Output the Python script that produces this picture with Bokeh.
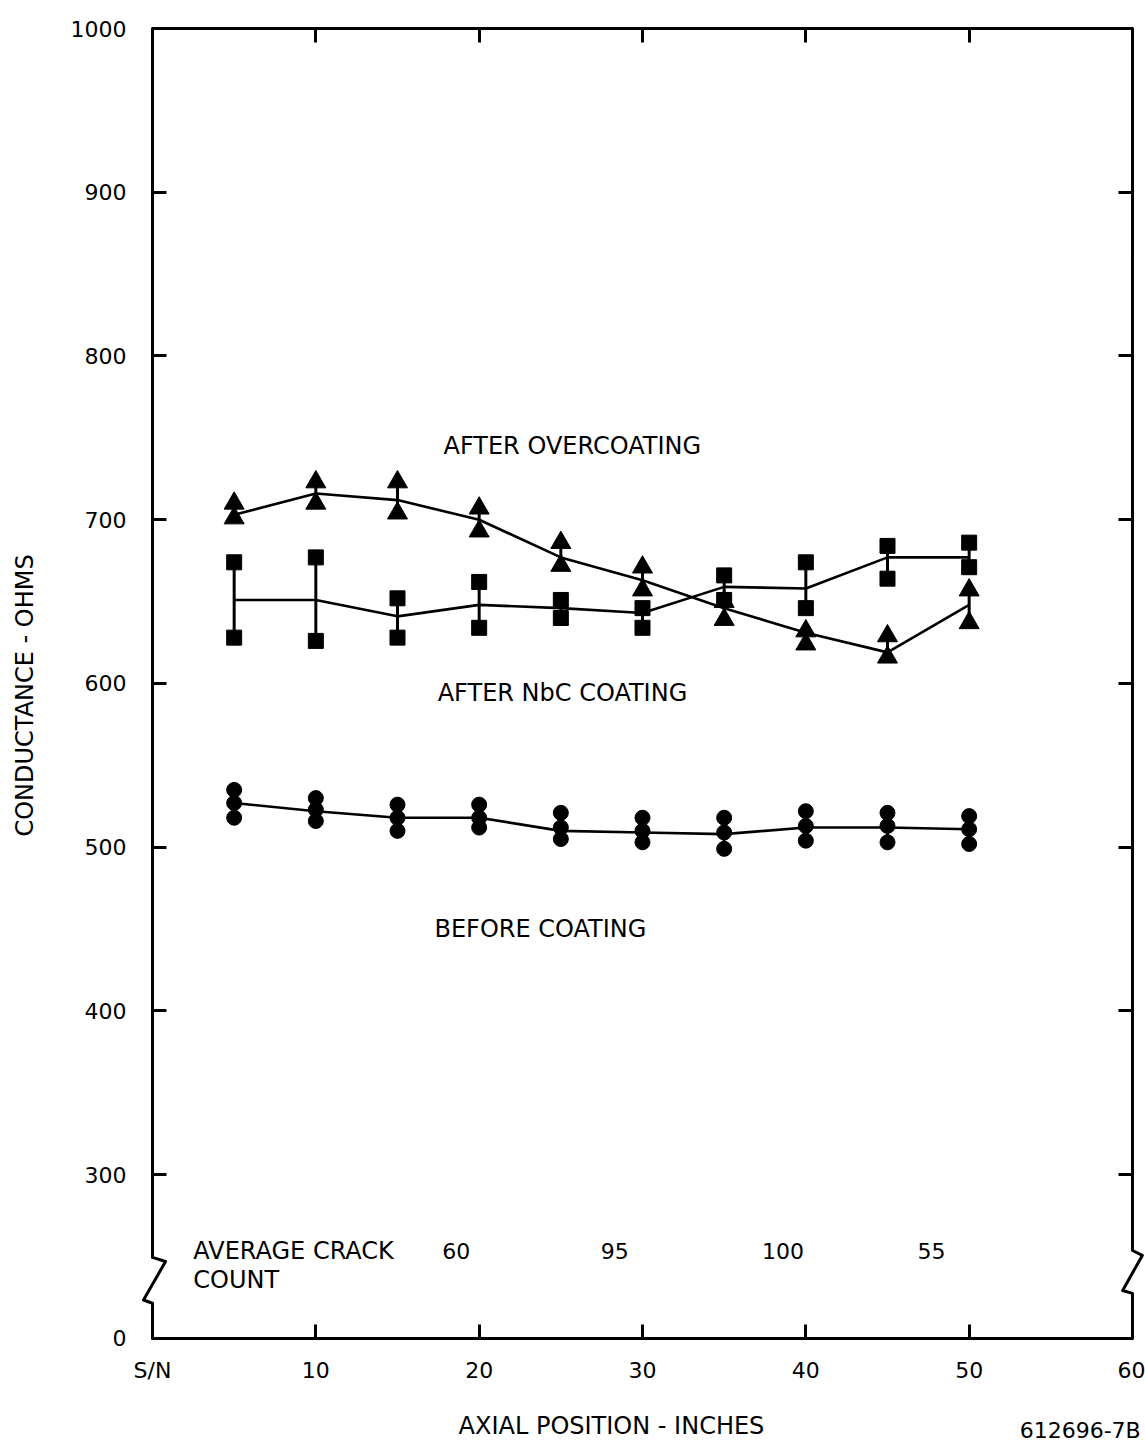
from bokeh.plotting import figure
from bokeh.models import Range1d, FixedTicker, LinearAxis, Label
from bokeh.embed import file_html
from bokeh.resources import INLINE
import math

# ---------------- data ----------------
axial = [5, 10, 15, 20, 25, 30, 35, 40, 45, 50]

# AFTER OVERCOATING (triangles)
over_hi = [710, 723, 723, 707, 686, 671, 650, 632, 629, 657]
over_lo = [701, 710, 704, 693, 672, 657, 639, 624, 616, 637]
over_mean = [703, 716, 712, 700, 677, 663, 646, 631, 619, 648]

# AFTER NbC COATING (squares)
nbc_hi = [674, 677, 652, 662, 651, 646, 666, 674, 684, 686]
nbc_lo = [628, 626, 628, 634, 640, 634, 651, 646, 664, 671]
nbc_mean = [651, 651, 641, 648, 646, 643, 659, 658, 677, 677]

# BEFORE COATING (circles)
bef_hi = [535, 530, 526, 526, 521, 518, 518, 522, 521, 519]
bef_mid = [527, 523, 518, 518, 512, 510, 509, 513, 513, 511]
bef_lo = [518, 516, 510, 512, 505, 503, 499, 504, 503, 502]
bef_mean = [527, 522, 518, 518, 510, 509, 508, 512, 512, 511]

crack_counts = ["60", "95", "100", "55"]

x_ticks = [0, 10, 20, 30, 40, 50, 60]
x_tick_labels = ["S/N", "10", "20", "30", "40", "50", "60"]
# the axis is broken below 300: the bottom edge (drawn at 200) is labelled 0
y_ticks = [200, 300, 400, 500, 600, 700, 800, 900, 1000]
y_tick_labels = ["0", "300", "400", "500", "600", "700", "800", "900", "1000"]

X_MIN, X_MAX = 0, 60
Y_MIN, Y_MAX = 200, 1000

FONT = "DejaVu Sans"
FS_TICK = "22px"
FS = "24px"

# the frame fills the page; the chart box is drawn inside it
p = figure(width=1145, height=1447, output_backend="svg", toolbar_location=None,
           x_range=Range1d(-9.306, 60.796), y_range=Range1d(133.4, 1017.1),
           x_axis_location=None, y_axis_location=None)
p.min_border = 0
p.min_border_left = 0
p.min_border_right = 0
p.min_border_top = 0
p.min_border_bottom = 0
p.outline_line_color = None
p.xgrid.visible = False
p.ygrid.visible = False
p.background_fill_color = "white"
p.border_fill_color = "white"


def make_axis(ticks, labels, show_labels, standoff, loc):
    ax = LinearAxis(ticker=FixedTicker(ticks=ticks), fixed_location=loc)
    ax.axis_line_color = None
    ax.major_tick_in = 14
    ax.major_tick_out = 0
    ax.major_tick_line_width = 3
    ax.major_tick_line_color = "black"
    ax.minor_tick_line_color = None
    ax.major_label_standoff = standoff
    if show_labels:
        ax.major_label_overrides = {t: l for t, l in zip(ticks, labels)}
        ax.major_label_text_font = FONT
        ax.major_label_text_font_size = FS_TICK
        ax.major_label_text_color = "black"
    else:
        ax.major_label_overrides = {t: "" for t in ticks}
        ax.major_label_text_font_size = "1px"
    return ax


p.add_layout(make_axis(x_ticks, x_tick_labels, True, 20, Y_MIN), "below")
p.add_layout(make_axis(x_ticks, x_tick_labels, False, 0, Y_MAX), "above")
p.add_layout(make_axis(y_ticks, y_tick_labels, True, 26, X_MIN), "left")
p.add_layout(make_axis(y_ticks, y_tick_labels, False, 0, X_MAX), "right")

# chart box with the axis-break zig-zags on both sides
box_x = [0, 0, 0.8, -0.55, 0, 0, 60, 60, 59.4, 60.6, 60, 60, 0]
box_y = [1000, 249.5, 247, 223.5, 221.5, 200, 200, 227.5, 229.3, 250.7, 253.7, 1000, 1000]
p.line(box_x, box_y, line_width=3, color="black", line_join="round", line_cap="round")

# ---------------- series ----------------
p.segment(x0=axial, y0=over_lo, x1=axial, y1=over_hi, line_width=3, color="black")
p.segment(x0=axial, y0=nbc_lo, x1=axial, y1=nbc_hi, line_width=3, color="black")
p.segment(x0=axial, y0=bef_lo, x1=axial, y1=bef_hi, line_width=3, color="black")

p.line(axial, over_mean, line_width=2.6, color="black")
p.line(axial, nbc_mean, line_width=2.6, color="black")
p.line(axial, bef_mean, line_width=2.6, color="black")

p.scatter(axial + axial, over_hi + over_lo, marker="triangle", size=20, color="black")
p.scatter(axial + axial, nbc_hi + nbc_lo, marker="square", size=15, color="black")
p.scatter(axial * 3, bef_hi + bef_mid + bef_lo, marker="circle", size=15, color="black")


# ---------------- texts ----------------
def lab(x, y, text, align="center", angle=0.0, size=FS):
    p.add_layout(Label(x=x, y=y, text=text, text_align=align, text_baseline="middle",
                       text_font=FONT, text_font_size=size, text_color="black",
                       angle=angle))


lab(25.7, 745, "AFTER OVERCOATING")
lab(25.1, 594, "AFTER NbC COATING")
lab(23.75, 450, "BEFORE COATING")
lab(2.5, 253.7, "AVERAGE CRACK", align="left")
lab(2.5, 235.4, "COUNT", align="left")
for xc, t in zip([18.6, 28.3, 38.6, 47.7], crack_counts):
    lab(xc, 253.7, t, size=FS_TICK)

lab(-7.78, 592.7, "CONDUCTANCE - OHMS", angle=math.pi / 2)
lab(28.1, 146.3, "AXIAL POSITION - INCHES")
lab(60.5, 143.8, "612696-7B", align="right", size=FS_TICK)

open("out.html", "w").write(file_html(p, INLINE))
